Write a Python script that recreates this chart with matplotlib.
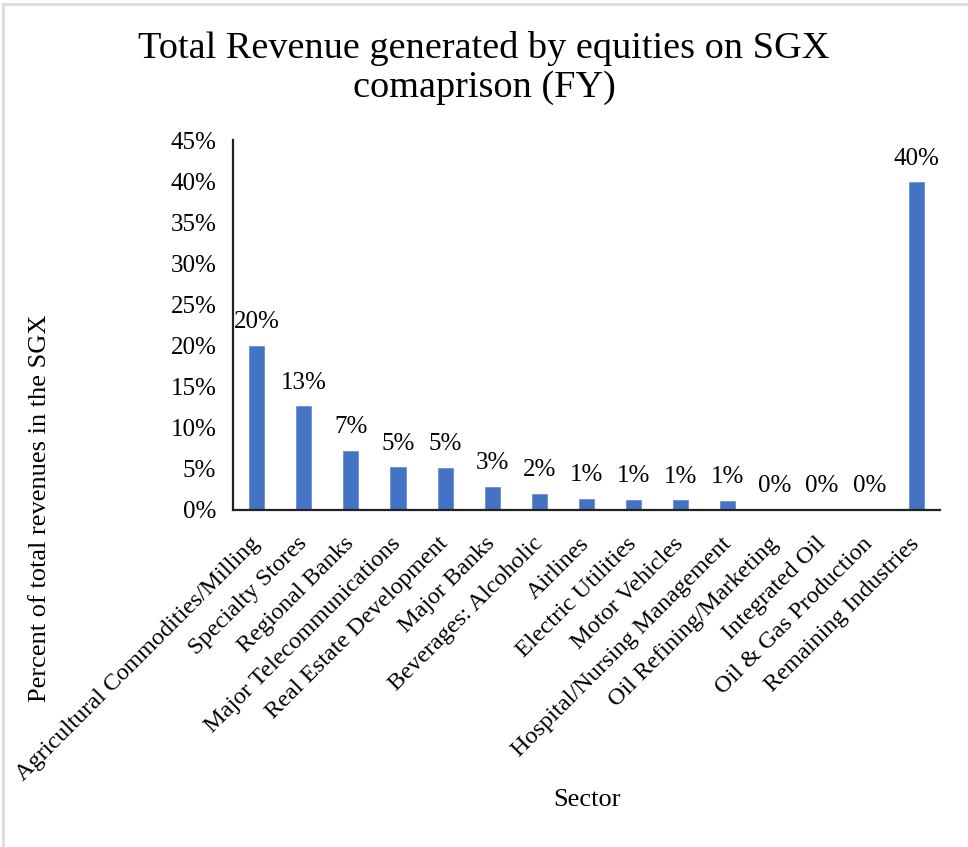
import matplotlib
matplotlib.use("Agg")
import matplotlib.pyplot as plt
from matplotlib.ticker import PercentFormatter
from matplotlib.lines import Line2D

sectors = [
    "Agricultural Commodities/Milling", "Specialty Stores", "Regional Banks",
    "Major Telecommunications", "Real Estate Development", "Major Banks",
    "Beverages: Alcoholic", "Airlines", "Electric Utilities", "Motor Vehicles",
    "Hospital/Nursing Management", "Oil Refining/Marketing", "Integrated Oil",
    "Oil & Gas Production", "Remaining Industries",
]
share = [0.1995, 0.126, 0.072, 0.052, 0.051, 0.028, 0.0195, 0.0135, 0.0125,
         0.0118, 0.011, 0.001, 0.0002, 0.0001, 0.3985]
yticks = [0, 0.05, 0.10, 0.15, 0.20, 0.25, 0.30, 0.35, 0.40, 0.45]

plt.rcParams['font.family'] = ['Liberation Serif', 'DejaVu Serif']

fig = plt.figure(figsize=(9.68, 8.47), dpi=100)
ax = fig.add_axes([0.2407, 0.3979, 0.7304, 0.4368])

x = range(len(sectors))
ax.bar(x, share, width=0.32, color='#4472C4', edgecolor='#6a8fd6', linewidth=0.6)

for xi, v in zip(x, share):
    ax.annotate(f"{v*100:.0f}%", (xi, v), xytext=(0, 17), textcoords='offset points',
                ha='center', va='center', fontsize=18, color='black')

ax.set_xlim(-0.5, len(sectors) - 0.5)
ax.set_ylim(0, 0.45)
ax.set_yticks(yticks)
ax.yaxis.set_major_formatter(PercentFormatter(1.0, decimals=0))
ax.tick_params(axis='y', length=0, pad=12, labelsize=18)
ax.tick_params(axis='x', length=0, pad=22, labelsize=17.5)
ax.set_xticks(list(x))
ax.set_xticklabels(sectors, rotation=45, ha='right', rotation_mode='anchor', va='center')

for s in ['top', 'right']:
    ax.spines[s].set_visible(False)
for s in ['left', 'bottom']:
    ax.spines[s].set_linewidth(1.6)
    ax.spines[s].set_color('#222222')

fig.text(0.5, 1 - 68/847, "Total Revenue generated by equities on SGX\ncomaprison (FY)",
         ha='center', va='center', fontsize=27.5, linespacing=1.2)
fig.text(0.606, 1 - 800/847, "Sector", ha='center', va='center', fontsize=19)
fig.text(40/968, 1 - 508/847, "Percent of total revenues in the SGX", ha='center', va='center',
         rotation=90, fontsize=19)

# light grey frame on top and left edges only
fig.add_artist(Line2D([3/968, 1.0], [1 - 4/847, 1 - 4/847], transform=fig.transFigure,
                      color='#dcdcdc', linewidth=2))
fig.add_artist(Line2D([3/968, 3/968], [0.0, 1 - 4/847], transform=fig.transFigure,
                      color='#dcdcdc', linewidth=2))

fig.savefig("out.png", dpi=100)
